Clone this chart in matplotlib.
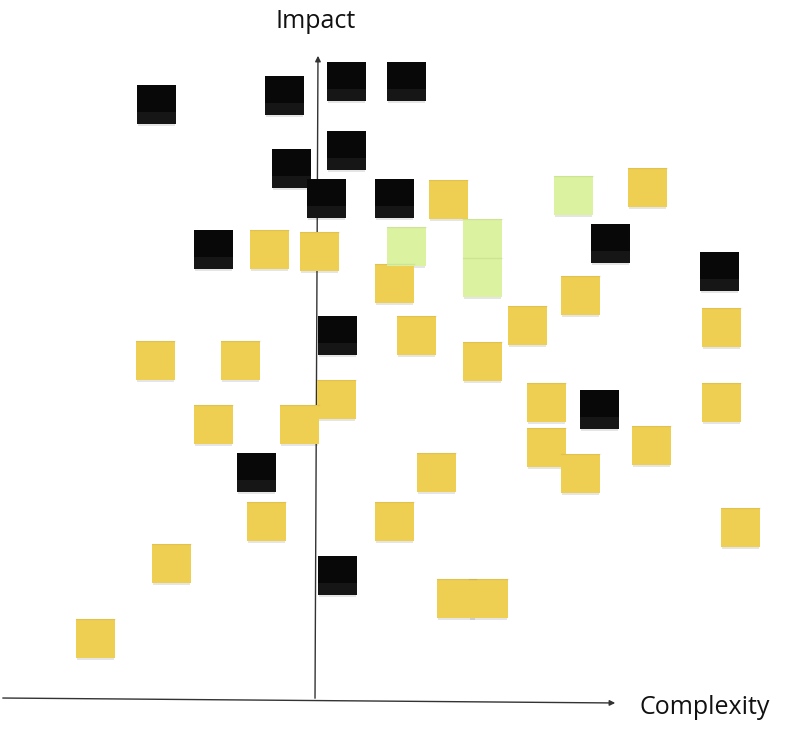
import matplotlib
matplotlib.use("Agg")
import matplotlib.pyplot as plt
from matplotlib.patches import Rectangle, FancyArrowPatch
import numpy as np

# Sticky-note positions on the Complexity (x) / Impact (y) board.
# Units: board units relative to the origin where the axes cross.
black_complexity = [-159, -31, 31, 91, 31, -24, 11, 79, -102, 295, 404, 22, 284, -59, 22]
black_impact     = [597, 606, 620, 620, 551, 533, 503, 503, 452, 458, 430, 366, 292, 229, 126]

yellow_complexity = [133, 332, -46, 4, 79, 265, 212, 406, 101, -160, -75, 167, 21, 231, 406,
                     -102, -16, 231, 336, 265, 121, -49, 79, 425, -144, 141, 173, -220]
yellow_impact     = [502, 514, 452, 450, 418, 406, 376, 374, 366, 341, 341, 340, 302, 299, 299,
                     277, 277, 254, 256, 228, 229, 180, 180, 174, 138, 103, 103, 63]

green_complexity = [258, 91, 167, 167]
green_impact     = [506, 455, 463, 424]

colors = {"black": "#080808", "yellow": "#efcf52", "green": "#dbf2a0"}
NOTE = 39

fig = plt.figure(figsize=(8.0, 7.33), dpi=100)
ax = fig.add_axes([0, 0, 1, 1])
ax.set_xlim(-315, 485)
ax.set_ylim(-32, 701)
ax.axis("off")


def draw_notes(xs, ys, kind):
    for x, y in zip(xs, ys):
        # soft shadow
        ax.add_patch(Rectangle((x - NOTE / 2 + 1, y - NOTE / 2 - 2), NOTE - 2, NOTE,
                               facecolor="#000000", alpha=0.10, lw=0, zorder=2))
        ax.add_patch(Rectangle((x - NOTE / 2, y - NOTE / 2), NOTE, NOTE,
                               facecolor=colors[kind], lw=0, zorder=3))
        if kind == "black":
            # subtle glossy lower sheen
            ax.add_patch(Rectangle((x - NOTE / 2, y - NOTE / 2), NOTE, NOTE * 0.3,
                                   facecolor="#161616", lw=0, zorder=3))
        else:
            # faint top edge where notes stack
            ax.plot([x - NOTE / 2, x + NOTE / 2], [y + NOTE / 2, y + NOTE / 2],
                    color="#000000", alpha=0.06, lw=1, zorder=3.1)


# axes lines with arrows
ax.add_patch(FancyArrowPatch((0, 0), (3, 648), arrowstyle="-|>", mutation_scale=8,
                             lw=1.0, color="#333333", zorder=2.5))
ax.add_patch(FancyArrowPatch((-315, 3), (303, -2), arrowstyle="-|>", mutation_scale=8,
                             lw=1.0, color="#333333", zorder=2.5))

draw_notes(yellow_complexity, yellow_impact, "yellow")
draw_notes(green_complexity, green_impact, "green")
draw_notes(black_complexity, black_impact, "black")

ax.text(1, 679, "Impact", fontsize=18, family="Open Sans", color="#111111",
        ha="center", va="center")
ax.text(390, -6, "Complexity", fontsize=18, family="Open Sans", color="#111111",
        ha="center", va="center")

fig.savefig("out.png", dpi=100, facecolor="white")
